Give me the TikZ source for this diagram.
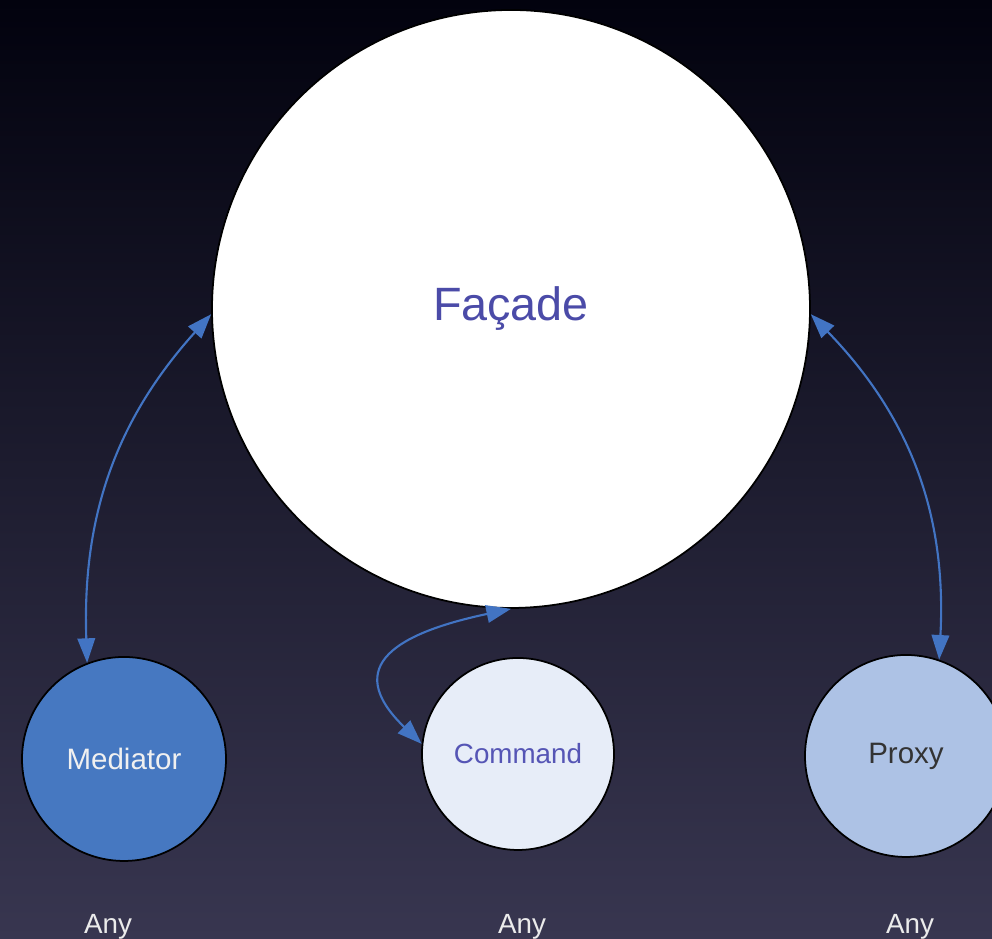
\documentclass[tikz,border=0pt]{standalone}
\usepackage{fontspec}
\setmainfont{Liberation Sans}
\usetikzlibrary{arrows.meta}

\definecolor{bgtop}{RGB}{2,2,14}
\definecolor{bgbottom}{RGB}{56,54,80}
\definecolor{linkblue}{RGB}{66,116,195}
\definecolor{mediatorfill}{RGB}{70,120,193}
\definecolor{commandfill}{RGB}{231,237,248}
\definecolor{proxyfill}{RGB}{173,194,229}
\definecolor{facadetext}{RGB}{75,75,168}
\definecolor{commandtext}{RGB}{85,85,181}

\begin{document}
\begin{tikzpicture}[
    pattern/.style={shape=circle, draw=black, line width=0.5pt, inner sep=0},
    small/.style={font=\fontsize{8.4}{10}\selectfont},
    link/.style={linkblue, line width=0.6pt, {Triangle[length=7pt,width=5pt]}-{Triangle[length=7pt,width=5pt]}},
    anylabel/.style={anchor=base, text=white!92!black, font=\fontsize{7.9}{10}\selectfont}
  ]
  \useasboundingbox (0,0) rectangle (9.92,9.39);
  \clip (0,0) rectangle (9.92,9.39);
  % Backdrop:
  \shade[top color=bgtop, bottom color=bgbottom] (0,0) rectangle (9.92,9.39);
  % Patterns:
  \node[pattern, fill=white, minimum size=5.98cm, text=facadetext, font=\fontsize{13.3}{16}\selectfont] (facade) at (5.11, 6.30){Façade};
  \node[pattern, fill=mediatorfill, minimum size=2.04cm, text=white!94!black, small] (mediator) at (1.24, 1.80){Mediator};
  \node[pattern, fill=commandfill, minimum size=1.92cm, text=commandtext, font=\fontsize{7.9}{10}\selectfont] (command) at (5.18, 1.85){Command};
  \node[pattern, fill=proxyfill, minimum size=2.02cm, text=black!80, small] (proxy) at (9.06, 1.83){Proxy};
  \node[anylabel] (anymediator) at (1.08, 0.05){Any};
  \node[anylabel] (anycommand) at (5.22, 0.05){Any};
  \node[anylabel] (anyproxy) at (9.10, 0.05){Any};
  % Links:
  \draw[link] (facade.181) to[out=228, in=92] (mediator.111);
  \draw[link] (facade.359) to[out=-46, in=87] (proxy.71);
  \draw[link] (facade.270) to[out=192, in=136, looseness=1.8] (command.174);
\end{tikzpicture}
\end{document}
